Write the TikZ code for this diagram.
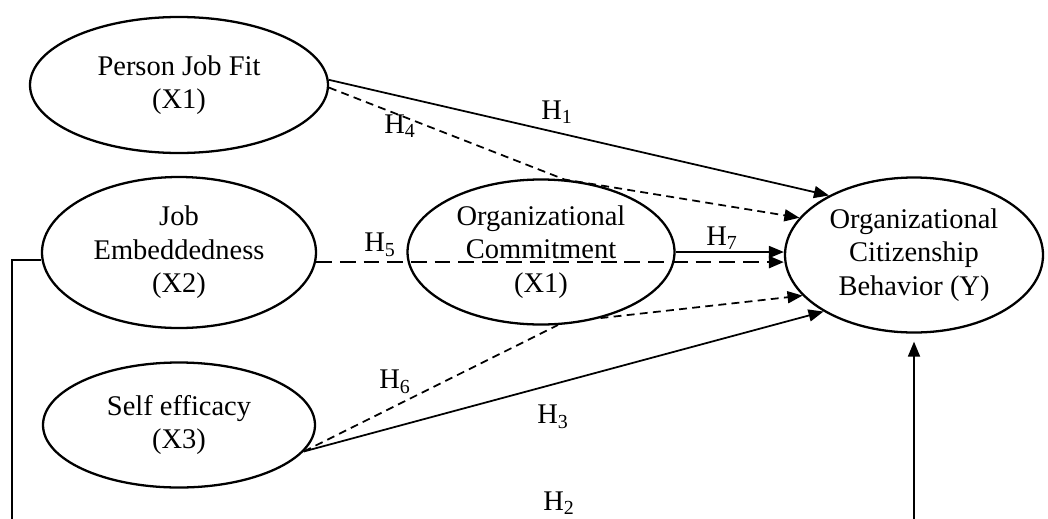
\documentclass[tikz,border=0pt]{standalone}
\usepackage{fontspec}
\setmainfont{Liberation Serif}
\usepackage{tikz}
\usetikzlibrary{arrows.meta,positioning,shapes.geometric,calc}
\tikzset{
  % --- Latent variables ------------------------------------------------------
  latent/.style={
    ellipse, draw=black, line width=1.3pt, align=center,
    inner sep=0pt, font=\fontsize{16.2}{19}\selectfont
  },
  % --- Hypothesis paths ------------------------------------------------------
  pathline/.style={draw=black, line width=1pt},
  patharrow/.style={-{Triangle[length=3mm,width=2.4mm]}, draw=black, line width=1pt},
  mediated/.style={pathline, dash pattern=on 4.5pt off 3pt},
  mediatedarrow/.style={patharrow, dash pattern=on 4.5pt off 3pt},
  boldmediated/.style={patharrow, line width=1.4pt, dash pattern=on 9pt off 4.5pt},
  hyplabel/.style={font=\fontsize{16.2}{19}\selectfont, inner sep=0pt},
}

\begin{document}
\begin{tikzpicture}
    \clip (0,0) rectangle (20.96,-10.36);
    \node[latent, minimum width=5.96cm, minimum height=2.72cm] (pjf) at (3.58,-1.70) {Person Job Fit\\(X1)};
    \node[latent, minimum width=5.48cm, minimum height=3.02cm] (je) at (3.58,-5.05) {Job\\Embeddedness\\(X2)};
    \node[latent, minimum width=5.44cm, minimum height=2.5cm] (se) at (3.58,-8.50) {Self efficacy\\(X3)};
    \node[latent, minimum width=5.34cm, minimum height=2.9cm] (oc) at (10.82,-5.04) {Organizational\\Commitment\\(X1)};
    \node[latent, minimum width=5.16cm, minimum height=3.1cm] (ocb) at (18.28,-5.10) {Organizational\\Citizenship\\Behavior (Y)};
    \coordinate (loop) at (0.24,-10.8);
    \coordinate (h5start) at (je.-4);

    \node[hyplabel] (h1) at (11.14,-2.24) {H\textsubscript{1}};
    \node[hyplabel] (h4) at (8.00,-2.52) {H\textsubscript{4}};
    \node[hyplabel] (h5) at (7.60,-4.90) {H\textsubscript{5}};
    \node[hyplabel] (h7) at (14.44,-4.76) {H\textsubscript{7}};
    \node[hyplabel] (h6) at (7.90,-7.64) {H\textsubscript{6}};
    \node[hyplabel] (h3) at (11.06,-8.34) {H\textsubscript{3}};
    \node[hyplabel] (h2) at (11.18,-10.06) {H\textsubscript{2}};

    \draw[patharrow] (pjf.2) -- (ocb.145);
    \draw[mediatedarrow] (pjf.-1) -- (oc.72) -- (ocb.162);
    \draw[boldmediated] (h5start) -- (ocb.west |- h5start);
    \draw[patharrow] (oc.east) -- (ocb.west |- oc.east);
    \draw[mediated] (se.-12) -- (oc.-77);
    \draw[mediatedarrow] (oc.-48) -- (ocb.200);
    \draw[patharrow] (se.-12) -- (ocb.212);
    \draw[patharrow, shorten >=0.16cm] (je.183) -| (loop) -| (ocb.south);
  \end{tikzpicture}
\end{document}
